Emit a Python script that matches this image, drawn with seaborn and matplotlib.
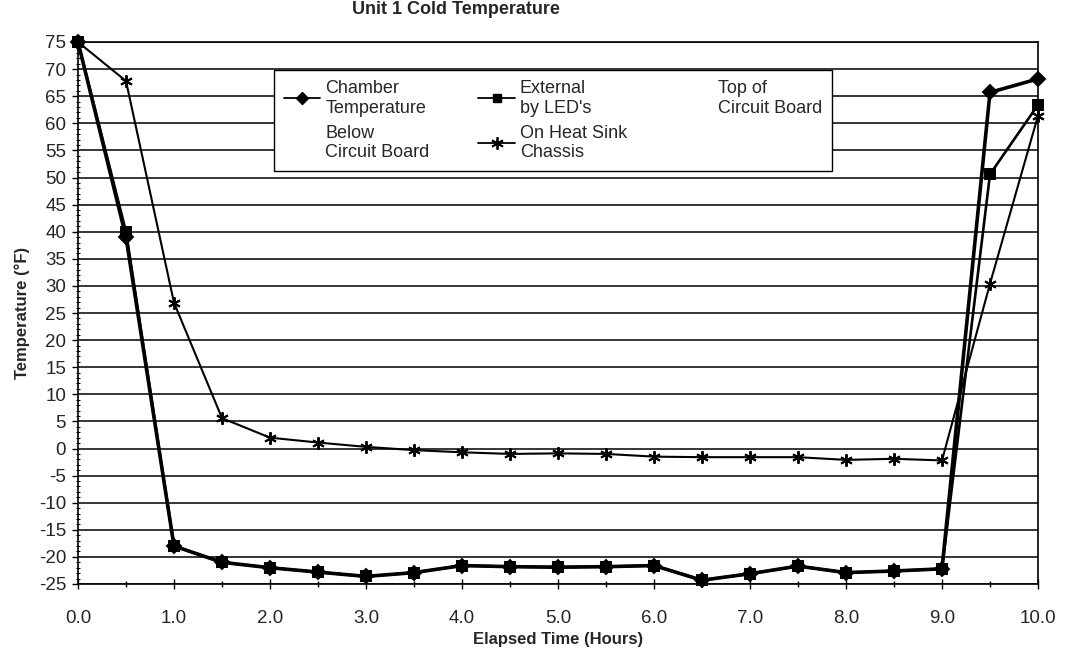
import numpy as np
import pandas as pd
import matplotlib
matplotlib.use('Agg')
import matplotlib.pyplot as plt
from matplotlib.lines import Line2D
from matplotlib.ticker import MultipleLocator
import seaborn as sns

# data (one reading every half hour)
hours = [0.0, 0.5, 1.0, 1.5, 2.0, 2.5, 3.0, 3.5, 4.0, 4.5, 5.0,
         5.5, 6.0, 6.5, 7.0, 7.5, 8.0, 8.5, 9.0, 9.5, 10.0]
chamber = [75, 39, -18, -21, -22, -22.8, -23.6, -22.9, -21.6, -21.8, -21.9,
           -21.8, -21.6, -24.3, -23.1, -21.7, -22.9, -22.6, -22.2, 65.7, 68.2]
external = [75, 40, -18, -21, -22, -22.8, -23.6, -22.9, -21.6, -21.8, -21.9,
            -21.8, -21.6, -24.3, -23.1, -21.7, -22.9, -22.6, -22.2, 50.6, 63.4]
heat_sink = [75, 67.8, 26.9, 5.6, 2.0, 1.1, 0.3, -0.3, -0.7, -1.0, -0.9,
             -1.0, -1.5, -1.6, -1.6, -1.6, -2.1, -1.9, -2.2, 30.4, 61.4]

y_ticks = list(range(-25, 80, 5))
x_ticks = [0, 1, 2, 3, 4, 5, 6, 7, 8, 9, 10]
x_tick_labels = ['0.0', '1.0', '2.0', '3.0', '4.0', '5.0', '6.0', '7.0', '8.0', '9.0', '10.0']

legend_labels = ['Chamber\nTemperature', 'Below\nCircuit Board',
                 'External\nby LED\'s', 'On Heat Sink\nChassis',
                 'Top of\nCircuit Board']

sns.set_theme(style='white')
plt.rcParams['font.family'] = ['Liberation Sans', 'DejaVu Sans']
plt.rcParams['axes.unicode_minus'] = False

W, H = 1076, 654
fig = plt.figure(figsize=(W / 100, H / 100), dpi=100)
ax = fig.add_axes([78 / W, 1 - 584 / H, 960 / W, 542 / H])

star = (6, 2, 0)
series = [
    (chamber, 'D', 7, 2.6),
    (external, 's', 6.5, 1.9),
    (heat_sink, star, 9, 1.5),
]
for vals, mk, ms, lw in series:
    sns.lineplot(x=hours, y=vals, ax=ax, color='black', marker=mk,
                 markersize=ms, linewidth=lw, markeredgecolor='black',
                 markeredgewidth=1.4, clip_on=False)

ax.set_xlim(0, 10)
ax.set_ylim(-25, 75)
ax.set_yticks(y_ticks)
ax.set_yticklabels([str(v) for v in y_ticks])
ax.set_xticks(x_ticks)
ax.set_xticklabels(x_tick_labels)
ax.yaxis.set_minor_locator(MultipleLocator(1))
ax.xaxis.set_minor_locator(MultipleLocator(0.5))

ax.yaxis.grid(True, color='black', linewidth=1.1)
ax.xaxis.grid(False)
ax.set_axisbelow(True)
for sp in ax.spines.values():
    sp.set_color('black')
    sp.set_linewidth(1.2)

ax.tick_params(axis='y', which='major', direction='out', length=4.5, width=1,
               pad=4, labelsize=13.5, color='black', left=True)
ax.tick_params(axis='y', which='minor', direction='inout', length=3, width=0.8,
               color='black', left=True)
ax.tick_params(axis='x', which='major', direction='inout', length=7, width=1,
               pad=15, labelsize=13.5, color='black', bottom=True)
ax.tick_params(axis='x', which='minor', direction='inout', length=5, width=1,
               color='black', bottom=True)

ax.set_xlabel('Elapsed Time (Hours)', fontsize=12, fontweight='bold')
ax.set_ylabel('Temperature (°F)', fontsize=12, fontweight='bold')
ax.xaxis.set_label_coords(0.5, -0.088)
ax.yaxis.set_label_coords(-0.05, 0.5)

fig.text(352 / W, 1 - 14 / H, 'Unit 1 Cold Temperature', ha='left',
         va='baseline', fontsize=13, fontweight='bold')

# legend: two entries have no visible mark in the scan
handles = [
    Line2D([], [], color='black', marker='D', markersize=6, linewidth=1.3),
    Line2D([], [], color='none'),
    Line2D([], [], color='black', marker='s', markersize=6, linewidth=1.3),
    Line2D([], [], color='black', marker=star, markersize=9, markeredgewidth=1.3, linewidth=1.3),
    Line2D([], [], color='none'),
]
leg = ax.legend(handles, legend_labels, ncol=3, loc='upper left',
                bbox_to_anchor=(274 / W, 1 - 70 / H), bbox_transform=fig.transFigure,
                borderaxespad=0, fontsize=13, frameon=True, fancybox=False,
                framealpha=1, edgecolor='black', handlelength=2.0,
                handletextpad=0.3, columnspacing=2.7, labelspacing=0.45,
                borderpad=0.55)
leg.get_frame().set_linewidth(1.0)

fig.savefig('out.png', dpi=100)
